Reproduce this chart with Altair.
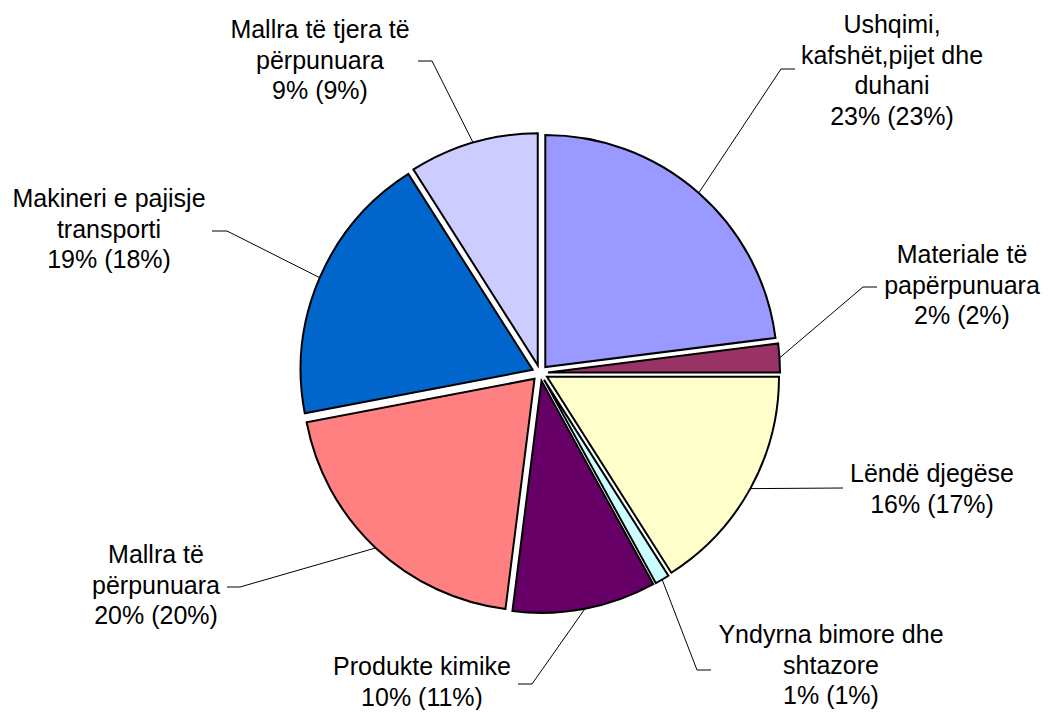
import math
import altair as alt
import pandas as pd

# ---------------- data ----------------
categories = [
    "Ushqimi,\nkafshët,pijet dhe\nduhani",
    "Materiale të\npapërpunuara",
    "Lëndë djegëse",
    "Yndyrna bimore dhe\nshtazore",
    "Produkte kimike",
    "Mallra të\npërpunuara",
    "Makineri e pajisje\ntransporti",
    "Mallra të tjera të\npërpunuara",
]
share_current = [23, 2, 16, 1, 10, 20, 19, 9]
share_previous = [23, 2, 17, 1, 11, 20, 18, 9]
colors = ["#9999FF", "#993366", "#FFFFCC", "#CCFFFF",
          "#660066", "#FF8080", "#0066CC", "#CCCCFF"]

# ---------------- layout (page pixels) ----------------
PAGE_MARGIN = 8
W, H = 1037, 702
CX, CY = 540, 373          # pie centre on the page
R = 232                    # pie radius
EXPLODE = 8                # explosion distance

label_anchor = [(892, 33), (962, 263), (932, 482), (831, 643),
                (422, 675), (156, 563), (109, 207), (320, 38)]
leader_elbow = [(781, 69), (863, 287), (843, 488), (697, 670),
                (532, 684), (240, 587), (227, 231), (432, 61)]
leader_end_x = [795, 877, 843, 711, 518, 227, 212, 418]

rows = []
for i, name in enumerate(categories):
    rows.append({
        "order": i,
        "name": name,
        "value": share_current[i],
        "label": f"{name}\n{share_current[i]}% ({share_previous[i]}%)",
        "lx": label_anchor[i][0] - CX,
        "ly": CY - label_anchor[i][1],
        "bx": leader_elbow[i][0] - CX,
        "by": CY - leader_elbow[i][1],
        "bx2": leader_end_x[i] - CX,
    })
df = pd.DataFrame(rows)
total = sum(share_current)

xs = alt.Scale(domain=[PAGE_MARGIN - CX, PAGE_MARGIN + W - CX], range=[0, W], nice=False, zero=False)
ys = alt.Scale(domain=[CY - PAGE_MARGIN - H, CY - PAGE_MARGIN], range=[H, 0], nice=False, zero=False)

base = (
    alt.Chart(df)
    .transform_window(cum="sum(value)", sort=[alt.SortField("order")], frame=[None, 0])
    .transform_calculate(
        start="datum.cum - datum.value",
        mid=f"(datum.cum - datum.value / 2) / {total} * 2 * PI",
    )
    .transform_calculate(
        ex=f"{EXPLODE} * sin(datum.mid)",
        ey=f"{EXPLODE} * cos(datum.mid)",
        sx=f"{R + EXPLODE} * sin(datum.mid)",
        sy=f"{R + EXPLODE} * cos(datum.mid)",
    )
)

arcs = base.mark_arc(radius=R, stroke="black", strokeWidth=2).encode(
    theta=alt.Theta("start:Q", scale=alt.Scale(domain=[0, total], range=[0, 2 * math.pi])),
    theta2="cum:Q",
    x=alt.X("ex:Q", scale=xs, axis=None),
    y=alt.Y("ey:Q", scale=ys, axis=None),
    color=alt.Color("name:N", scale=alt.Scale(domain=categories, range=colors), legend=None),
)

leader1 = base.mark_rule(color="black", strokeWidth=1).encode(
    x=alt.X("sx:Q", scale=xs, axis=None),
    y=alt.Y("sy:Q", scale=ys, axis=None),
    x2="bx:Q",
    y2="by:Q",
)

leader2 = base.mark_rule(color="black", strokeWidth=1).encode(
    x=alt.X("bx:Q", scale=xs, axis=None),
    x2="bx2:Q",
    y=alt.Y("by:Q", scale=ys, axis=None),
)

labels = base.mark_text(
    font="Liberation Sans, Arial, sans-serif",
    fontSize=25,
    align="center",
    baseline="alphabetic",
    lineBreak="\n",
    lineHeight=30.5,
    color="black",
).encode(
    x=alt.X("lx:Q", scale=xs, axis=None),
    y=alt.Y("ly:Q", scale=ys, axis=None),
    text="label:N",
)

chart = (
    alt.layer(arcs, leader1, leader2, labels)
    .properties(width=W, height=H, padding=0, autosize=alt.AutoSizeParams(type="none"))
    .configure_view(stroke=None)
)

chart.save("out.html", embed_options={"renderer": "svg", "actions": False})
